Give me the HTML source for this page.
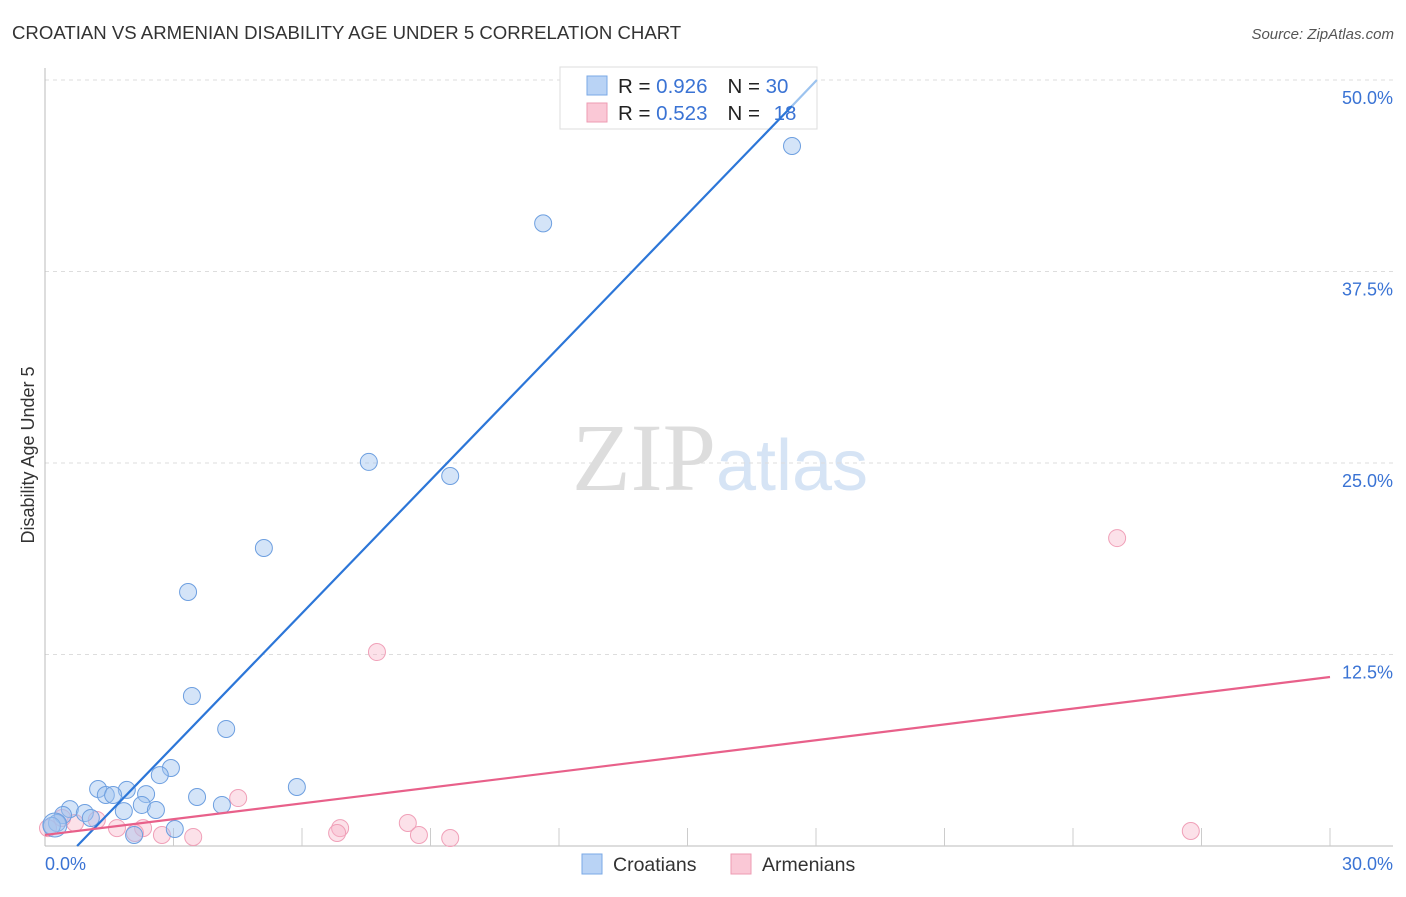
<!DOCTYPE html>
<html><head><meta charset="utf-8"><style>
body{margin:0;background:#fff;font-family:"Liberation Sans",sans-serif}
</style></head><body>
<svg width="1406" height="892" xmlns="http://www.w3.org/2000/svg" font-family="Liberation Sans, sans-serif">
<text x="12" y="39" font-size="18.6" fill="#333">CROATIAN VS ARMENIAN DISABILITY AGE UNDER 5 CORRELATION CHART</text>
<text x="1394" y="39" font-size="15" fill="#555" text-anchor="end" font-style="italic">Source: ZipAtlas.com</text>
<text x="720" y="490" font-size="96" text-anchor="middle"><tspan fill="#ddd" font-family="Liberation Serif, serif">ZIP</tspan><tspan fill="#d6e4f5" font-size="72">atlas</tspan></text>
<g id="grid"></g>
<g id="axes"></g>
<text transform="translate(34,455) rotate(-90)" font-size="18" fill="#333" text-anchor="middle">Disability Age Under 5</text>
<g>
<rect x="560" y="67" width="257" height="62" fill="#fff" stroke="#ddd"/>
<rect x="587" y="76" width="20" height="19" fill="#b9d3f5" stroke="#7aa8e6"/>
<rect x="587" y="103" width="20" height="19" fill="#fac8d6" stroke="#ee9bb3"/>
<text x="618" y="93" font-size="20.5" fill="#222">R = <tspan fill="#3a73d4">0.926</tspan><tspan dx="20">N = </tspan><tspan fill="#3a73d4">30</tspan></text>
<text x="618" y="120" font-size="20.5" fill="#222">R = <tspan fill="#3a73d4">0.523</tspan><tspan dx="20">N = </tspan><tspan fill="#3a73d4" dx="8">18</tspan></text>
</g>
<g id="marks"></g>
<g>
<rect x="582" y="854" width="20" height="20" fill="#b9d3f5" stroke="#7aa8e6"/>
<text x="613" y="871" font-size="19.5" fill="#333">Croatians</text>
<rect x="731" y="854" width="20" height="20" fill="#fac8d6" stroke="#ee9bb3"/>
<text x="762" y="871" font-size="19.5" fill="#333">Armenians</text>
</g>
</svg>
<script>
const yTicks=[12.5,25,37.5,50];
const yTickLabels=["12.5%","25.0%","37.5%","50.0%"];
const xTickLabels=["0.0%","30.0%"];
const croX=[17.44,11.63,7.56,9.46,5.11,3.34,3.43,4.23,2.94,2.68,1.24,1.91,1.42,1.59,2.36,5.88,3.55,4.13,2.26,2.59,1.84,0.58,0.93,0.42,1.07,0.28,0.16,3.03,2.08,0.23];
const croY=[45.69,40.64,25.07,24.15,19.45,16.58,9.79,7.64,5.09,4.63,3.72,3.66,3.33,3.33,3.39,3.85,3.20,2.68,2.68,2.35,2.28,2.41,2.15,2.02,1.83,1.50,1.31,1.11,0.72,1.37];
const armX=[25.03,7.75,4.51,26.75,8.47,6.89,6.82,8.73,9.46,3.46,2.73,2.29,1.68,1.21,0.70,0.07,0.40,2.10];
const armY=[20.10,12.66,3.13,0.98,1.50,1.17,0.85,0.72,0.52,0.59,0.72,1.17,1.17,1.70,1.50,1.17,1.83,0.85];
const croLine=[[0.75,0],[17.44,48.3],[18.02,50]];
const armLine=[[0,0.72],[30,11.03]];
const NS="http://www.w3.org/2000/svg";
const X=v=>45+v/30*1285, Y=v=>846-v/50*766;
function mk(t,a,p){const e=document.createElementNS(NS,t);for(const k in a)e.setAttribute(k,a[k]);document.getElementById(p).appendChild(e);return e;}
yTicks.forEach((t,i)=>{
 const g=mk('line',{x1:45,x2:1393,y1:Y(t),y2:Y(t),stroke:'#ddd','stroke-dasharray':'4,4'},'grid');
 
 
 const l=mk('text',{x:1393,y:Y(t)+24,'font-size':18,fill:'#3a73d4','text-anchor':'end'},'grid');
 
 
 l.textContent=yTickLabels[i];
});
const ya=mk('line',{x1:45,x2:45,y1:68,y2:846,stroke:'#bbb'},'axes');


const xa=mk('line',{x1:45,x2:1393,y1:846,y2:846,stroke:'#bbb'},'axes');


for(let i=1;i<=10;i++){const t=mk('line',{x1:X(i*3),x2:X(i*3),y1:828,y2:846,stroke:'#ccc'},'axes');
 
 }
[[0,45,'start'],[30,1393,'end']].forEach((d,i)=>{const t=mk('text',{x:d[1],y:870,'font-size':18,fill:'#3a73d4','text-anchor':d[2]},'axes');
 
 
 t.textContent=xTickLabels[i];});
armX.forEach((x,i)=>{const c=mk('circle',{cx:X(x),cy:Y(armY[i]),r:8.5,fill:'rgba(248,180,200,0.4)',stroke:'#f0a0b8','stroke-width':1},'marks');
 
 });
croX.forEach((x,i)=>{const c=mk('circle',{cx:X(x),cy:Y(croY[i]),r:i==29?12:8.5,fill:'rgba(160,195,240,0.45)',stroke:'#6d9fe0','stroke-width':1},'marks');
 
 });
const bl=mk('line',{x1:X(croLine[0][0]),y1:Y(croLine[0][1]),x2:X(croLine[1][0]),y2:Y(croLine[1][1]),stroke:'#2c76d8','stroke-width':2.2},'marks');


const bl2=mk('line',{x1:X(croLine[1][0]),y1:Y(croLine[1][1]),x2:X(croLine[2][0]),y2:Y(croLine[2][1]),stroke:'#9cc3ef','stroke-width':2.2},'marks');


const pl=mk('line',{x1:X(armLine[0][0]),y1:Y(armLine[0][1]),x2:X(armLine[1][0]),y2:Y(armLine[1][1]),stroke:'#e8608a','stroke-width':2.2},'marks');


</script>
</body></html>
